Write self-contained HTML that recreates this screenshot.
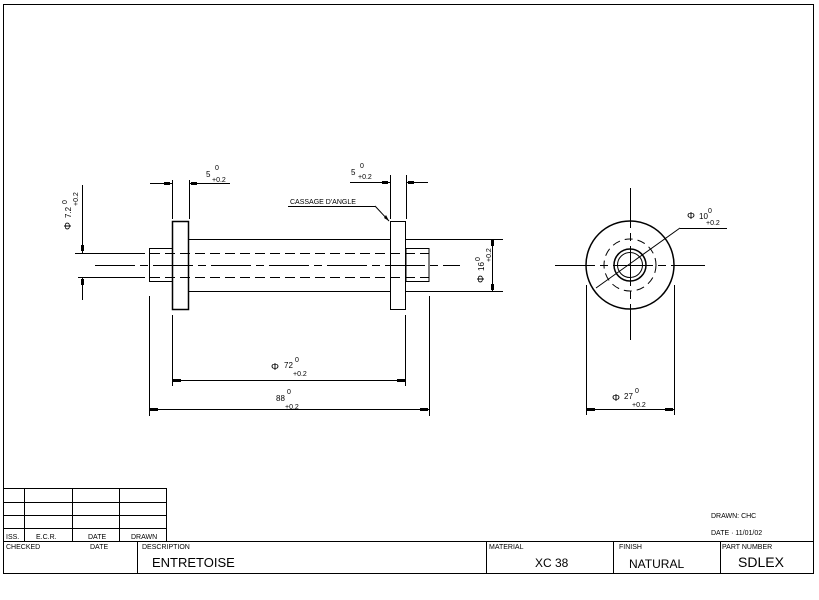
<!DOCTYPE html>
<html><head><style>
html,body{margin:0;padding:0;background:#fff}
svg{display:block}
text{font-family:"Liberation Sans",sans-serif;fill:#000}
</style></head><body>
<svg width="819" height="600" viewBox="0 0 819 600" xmlns="http://www.w3.org/2000/svg">
<rect x="0" y="0" width="819" height="600" fill="#fff"/>
<g stroke="#000" stroke-width="1" fill="none">
<!-- border -->
<rect x="3.5" y="4.5" width="810" height="569"/>
<!-- revision table -->
<line x1="3" y1="488.5" x2="167" y2="488.5"/>
<line x1="3" y1="502.5" x2="167" y2="502.5"/>
<line x1="3" y1="515.5" x2="167" y2="515.5"/>
<line x1="3" y1="528.5" x2="167" y2="528.5"/>
<line x1="3" y1="541.5" x2="814" y2="541.5"/>
<line x1="24.5" y1="488" x2="24.5" y2="541"/>
<line x1="72.5" y1="488" x2="72.5" y2="541"/>
<line x1="119.5" y1="488" x2="119.5" y2="541"/>
<line x1="166.5" y1="488" x2="166.5" y2="541"/>
<line x1="137.5" y1="541" x2="137.5" y2="573"/>
<line x1="486.5" y1="541" x2="486.5" y2="573"/>
<line x1="613.5" y1="541" x2="613.5" y2="573"/>
<line x1="720.5" y1="541" x2="720.5" y2="573"/>

<!-- front view -->
<rect x="172.5" y="221.5" width="16" height="88" stroke-width="1.5"/>
<rect x="390.5" y="221.5" width="15" height="88"/>
<line x1="189" y1="239.5" x2="390" y2="239.5"/>
<line x1="189" y1="291.5" x2="390" y2="291.5"/>
<line x1="406" y1="239.5" x2="410" y2="239.5"/>
<line x1="406" y1="291.5" x2="410" y2="291.5"/>
<rect x="149.5" y="248.5" width="23" height="33"/>
<rect x="406" y="248.5" width="23" height="33"/>
<line x1="150" y1="253.5" x2="429" y2="253.5" stroke-dasharray="10,5"/>
<line x1="150" y1="277.5" x2="429" y2="277.5" stroke-dasharray="10,5"/>
<line x1="95" y1="265.5" x2="460" y2="265.5" stroke-dasharray="40,5,8,5"/>
<!-- left dims phi7.2 -->
<line x1="75" y1="253.5" x2="145" y2="253.5"/>
<line x1="78" y1="277.5" x2="145" y2="277.5"/>
<line x1="82.5" y1="185" x2="82.5" y2="253"/>
<line x1="82.5" y1="278" x2="82.5" y2="300"/>
<!-- top dims -->
<line x1="172.5" y1="180" x2="172.5" y2="219"/>
<line x1="189.5" y1="180" x2="189.5" y2="219"/>
<line x1="150" y1="183.5" x2="172" y2="183.5"/>
<line x1="189" y1="183.5" x2="230" y2="183.5"/>
<line x1="390.5" y1="175" x2="390.5" y2="219"/>
<line x1="406.5" y1="175" x2="406.5" y2="219"/>
<line x1="350" y1="182.5" x2="390" y2="182.5"/>
<line x1="406" y1="182.5" x2="428" y2="182.5"/>
<!-- cassage leader -->
<line x1="288" y1="206.5" x2="375" y2="206.5"/>
<line x1="375" y1="206" x2="389" y2="221"/>
<!-- right dim phi16 -->
<line x1="410" y1="239.5" x2="503" y2="239.5"/>
<line x1="410" y1="291.5" x2="503" y2="291.5"/>
<line x1="492.5" y1="239" x2="492.5" y2="291"/>
<!-- bottom dims -->
<line x1="172.5" y1="315" x2="172.5" y2="386"/>
<line x1="405.5" y1="315" x2="405.5" y2="386"/>
<line x1="172" y1="380.5" x2="406" y2="380.5"/>
<line x1="149.5" y1="296" x2="149.5" y2="416"/>
<line x1="429.5" y1="296" x2="429.5" y2="416"/>
<line x1="149" y1="409.5" x2="429" y2="409.5"/>

<!-- side view -->
<circle cx="630" cy="265" r="44" stroke-width="1.5"/>
<circle cx="630" cy="265" r="26" stroke-dasharray="8,5"/>
<circle cx="630" cy="265" r="16" stroke-width="1.5"/>
<circle cx="630" cy="265" r="12.5"/>
<line x1="555" y1="265.5" x2="705" y2="265.5" stroke-dasharray="40,5,8,5"/>
<line x1="630.5" y1="188" x2="630.5" y2="340" stroke-dasharray="40,5,8,5"/>
<line x1="596" y1="288" x2="680" y2="228"/>
<line x1="680" y1="228.5" x2="727" y2="228.5"/>
<line x1="586.5" y1="285" x2="586.5" y2="415"/>
<line x1="674.5" y1="285" x2="674.5" y2="415"/>
<line x1="586" y1="409.5" x2="674" y2="409.5"/>
</g>
<!-- arrowheads -->
<g fill="#000">
<rect x="164" y="182" width="6" height="3"/>
<rect x="191" y="182" width="6" height="3"/>
<rect x="382" y="181" width="6" height="3"/>
<rect x="408" y="181" width="6" height="3"/>
<rect x="81" y="245" width="3" height="6"/>
<rect x="81" y="279" width="3" height="6"/>
<rect x="491" y="240" width="3" height="6"/>
<rect x="491" y="284" width="3" height="6"/>
<rect x="173" y="379" width="8" height="3"/>
<rect x="397" y="379" width="8" height="3"/>
<rect x="150" y="408" width="8" height="3"/>
<rect x="420" y="408" width="8" height="3"/>
<rect x="587" y="408" width="8" height="3"/>
<rect x="665" y="408" width="8" height="3"/>
<polygon points="389,221 384,218 386,215"/>
</g>
<g font-size="8">
<text x="206" y="177">5</text><text x="215" y="170" font-size="7">0</text><text x="212" y="182" font-size="7">+0.2</text>
<text x="351" y="175">5</text><text x="360" y="168" font-size="7">0</text><text x="358" y="179" font-size="7">+0.2</text>
<text x="290" y="204" font-size="7">CASSAGE D'ANGLE</text>
<text x="271" y="370" font-size="10">Φ</text><text x="284" y="368">72</text><text x="295" y="362" font-size="7">0</text><text x="293" y="376" font-size="7">+0.2</text>
<text x="276" y="401">88</text><text x="287" y="394" font-size="7">0</text><text x="285" y="409" font-size="7">+0.2</text>
<text x="612" y="401" font-size="10">Φ</text><text x="624" y="399">27</text><text x="635" y="393" font-size="7">0</text><text x="632" y="407" font-size="7">+0.2</text>
<text x="687" y="219" font-size="10">Φ</text><text x="699" y="219">10</text><text x="708" y="213" font-size="7">0</text><text x="706" y="225" font-size="7">+0.2</text>
<g transform="translate(71,230) rotate(-90)"><text x="0" y="0" font-size="10">Φ</text><text x="12" y="0">7.2</text><text x="26" y="-4" font-size="7">0</text><text x="24" y="7" font-size="7">+0.2</text></g>
<g transform="translate(484,283) rotate(-90)"><text x="0" y="0" font-size="10">Φ</text><text x="12" y="0">16</text><text x="22" y="-4" font-size="7">0</text><text x="21" y="7" font-size="7">+0.2</text></g>
</g>
<g font-size="7">
<text x="6" y="539">ISS.</text><text x="36" y="539">E.C.R.</text><text x="88" y="539">DATE</text><text x="131" y="539">DRAWN</text>
<text x="6" y="549">CHECKED</text><text x="90" y="549">DATE</text><text x="142" y="549">DESCRIPTION</text>
<text x="489" y="549">MATERIAL</text><text x="619" y="549">FINISH</text><text x="722" y="549">PART NUMBER</text>
<text x="711" y="518">DRAWN: CHC</text><text x="711" y="535">DATE  ·  11/01/02</text>
</g>
<g font-size="13">
<text x="152" y="567">ENTRETOISE</text>
<text x="535" y="567" font-size="12">XC 38</text>
<text x="629" y="568" font-size="12">NATURAL</text>
<text x="738" y="567" font-size="14">SDLEX</text>
</g>
</svg>
</body></html>
